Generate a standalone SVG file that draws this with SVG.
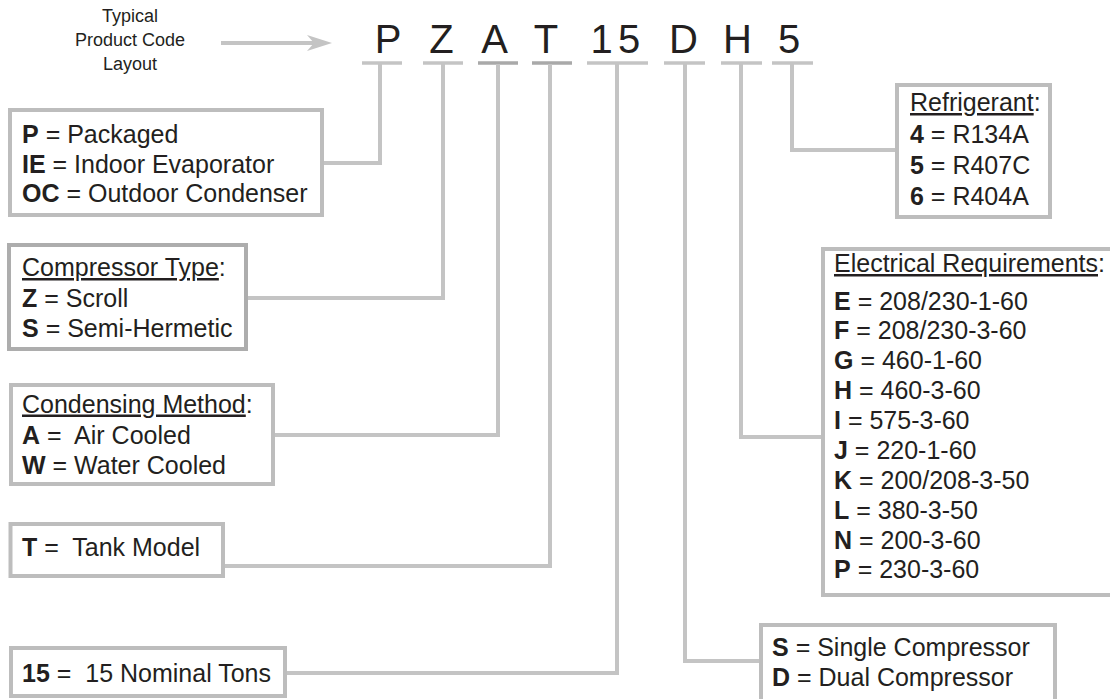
<svg xmlns="http://www.w3.org/2000/svg" width="1110" height="699" viewBox="0 0 1110 699">
<style>
.t{font-family:"Liberation Sans",Arial,sans-serif;font-size:25px;fill:#231f20}
.b{font-weight:bold}
.u{text-decoration:underline}
.code{font-family:"Liberation Sans",Arial,sans-serif;font-size:40px;fill:#231f20;text-anchor:middle}
.lbl{font-family:"Liberation Sans",Arial,sans-serif;font-size:18px;fill:#231f20;text-anchor:middle}
.box{fill:#fff;stroke:#bdbdbd;stroke-width:4}
.ul{stroke:#c4c4c4;stroke-width:3.5}
.uld{stroke:#a9a9a9;stroke-width:3.5}
.con{fill:none;stroke:#c4c4c4;stroke-width:4;stroke-linejoin:miter}
</style>
<rect width="1110" height="699" fill="#fff"/>
<g id="title">
<text class="lbl" x="130" y="22">Typical</text>
<text class="lbl" x="130" y="46">Product Code</text>
<text class="lbl" x="130" y="70">Layout</text>
<line x1="221" y1="43" x2="314" y2="43" stroke="#c4c4c4" stroke-width="4"/>
<polygon points="307,35 332,43 307,51 314,43" fill="#c4c4c4"/>
</g>
<g id="code">
<text class="code" x="388" y="53">P</text>
<text class="code" x="441.5" y="53">Z</text>
<text class="code" x="494.5" y="53">A</text>
<text class="code" x="546" y="53">T</text>
<text class="code" x="601.5" y="53">1</text>
<text class="code" x="629" y="53">5</text>
<text class="code" x="683.5" y="53">D</text>
<text class="code" x="737.5" y="53">H</text>
<text class="code" x="789" y="53">5</text>
<line class="ul" x1="362" y1="63" x2="402" y2="63"/>
<line class="ul" x1="423" y1="63" x2="463" y2="63"/>
<line class="uld" x1="478" y1="63" x2="518" y2="63"/>
<line class="uld" x1="532" y1="63" x2="572" y2="63"/>
<line class="ul" x1="587" y1="63" x2="648" y2="63"/>
<line class="ul" x1="664" y1="63" x2="705" y2="63"/>
<line class="ul" x1="721" y1="63" x2="762" y2="63"/>
<line class="ul" x1="772" y1="63" x2="813" y2="63"/>
</g>
<g id="connectors">
<path class="con" d="M322 163H380V64"/>
<path class="con" d="M246 298H443V64"/>
<path class="con" d="M273 435H498V64"/>
<path class="con" d="M223 566H550V64"/>
<path class="con" d="M285 673H617V64"/>
<path class="con" d="M685 64V661H761"/>
<path class="con" d="M741 64V437H823"/>
<path class="con" d="M792 64V150H897"/>
</g>
<g id="box-type">
<rect class="box" x="10" y="110" width="312" height="105"/>
<text class="t" x="22" y="142.5"><tspan class="b">P</tspan> = Packaged</text>
<text class="t" x="22" y="172.5"><tspan class="b">IE</tspan> = Indoor Evaporator</text>
<text class="t" x="22" y="201.5"><tspan class="b">OC</tspan> = Outdoor Condenser</text>
</g>
<g id="box-compressor">
<rect class="box" x="9" y="245" width="237" height="104" style="stroke:#adadad"/>
<text class="t" x="22" y="276"><tspan class="u">Compressor Type</tspan>:</text>
<text class="t" x="22" y="307"><tspan class="b">Z</tspan> = Scroll</text>
<text class="t" x="22" y="337"><tspan class="b">S</tspan> = Semi-Hermetic</text>
</g>
<g id="box-condensing">
<rect class="box" x="11" y="385" width="262" height="99"/>
<text class="t" x="22" y="412.5"><tspan class="u">Condensing Method</tspan>:</text>
<text class="t" x="22" y="444" xml:space="preserve"><tspan class="b">A</tspan> =  Air Cooled</text>
<text class="t" x="22" y="474"><tspan class="b">W</tspan> = Water Cooled</text>
</g>
<g id="box-tank">
<rect class="box" x="10.5" y="524" width="212.5" height="52"/>
<text class="t" x="22" y="556" xml:space="preserve"><tspan class="b">T</tspan> =  Tank Model</text>
</g>
<g id="box-tons">
<rect class="box" x="11" y="648" width="274" height="48"/>
<text class="t" x="22" y="682" xml:space="preserve"><tspan class="b">15</tspan> =  15 Nominal Tons</text>
</g>
<g id="box-refrigerant">
<rect class="box" x="897" y="85" width="153" height="132"/>
<text class="t" x="910" y="111"><tspan class="u">Refrigerant</tspan>:</text>
<text class="t" x="910" y="143"><tspan class="b">4</tspan> = R134A</text>
<text class="t" x="910" y="174"><tspan class="b">5</tspan> = R407C</text>
<text class="t" x="910" y="205"><tspan class="b">6</tspan> = R404A</text>
</g>
<g id="box-electrical">
<rect class="box" x="823" y="249" width="300" height="346"/>
<text class="t" x="834" y="272"><tspan class="u">Electrical Requirements</tspan>:</text>
<text class="t" x="834" y="309.5"><tspan class="b">E</tspan> = 208/230-1-60</text>
<text class="t" x="834" y="339"><tspan class="b">F</tspan> = 208/230-3-60</text>
<text class="t" x="834" y="369"><tspan class="b">G</tspan> = 460-1-60</text>
<text class="t" x="834" y="399"><tspan class="b">H</tspan> = 460-3-60</text>
<text class="t" x="834" y="429"><tspan class="b">I</tspan> = 575-3-60</text>
<text class="t" x="834" y="459"><tspan class="b">J</tspan> = 220-1-60</text>
<text class="t" x="834" y="489"><tspan class="b">K</tspan> = 200/208-3-50</text>
<text class="t" x="834" y="519"><tspan class="b">L</tspan> = 380-3-50</text>
<text class="t" x="834" y="549"><tspan class="b">N</tspan> = 200-3-60</text>
<text class="t" x="834" y="578"><tspan class="b">P</tspan> = 230-3-60</text>
</g>
<g id="box-compressors">
<rect class="box" x="761" y="625" width="294" height="90"/>
<text class="t" x="772" y="656"><tspan class="b">S</tspan> = Single Compressor</text>
<text class="t" x="772" y="686"><tspan class="b">D</tspan> = Dual Compressor</text>
</g>
</svg>
